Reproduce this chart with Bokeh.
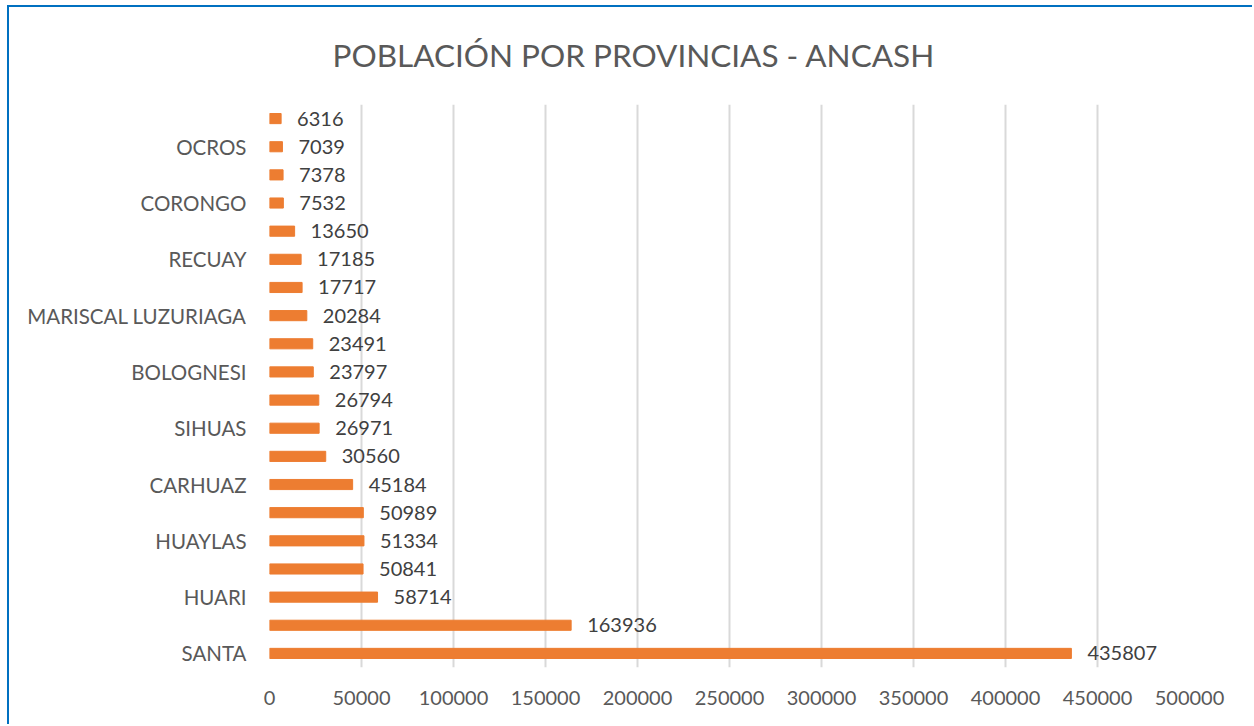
from bokeh.plotting import figure
from bokeh.models import FixedTicker, ColumnDataSource, Title
from bokeh.core.properties import value
from bokeh.embed import file_html
from bokeh.resources import INLINE

provinces = ["SANTA", "HUARAZ", "HUARI", "YUNGAY", "HUAYLAS", "CASMA", "CARHUAZ",
             "HUARMEY", "SIHUAS", "POMABAMBA", "BOLOGNESI", "PALLASCA",
             "MARISCAL LUZURIAGA", "CARLOS FERMÍN FITZCARRALD", "RECUAY",
             "ANTONIO RAYMONDI", "CORONGO", "ASUNCIÓN", "OCROS", "AIJA"]
population = [435807, 163936, 58714, 50841, 51334, 50989, 45184,
              30560, 26971, 26794, 23797, 23491,
              20284, 17717, 17185,
              13650, 7532, 7378, 7039, 6316]
x_ticks = [0, 50000, 100000, 150000, 200000, 250000, 300000, 350000, 400000, 450000, 500000]
title_text = "POBLACIÓN POR PROVINCIAS - ANCASH"

FONT = "Lato"
TXT = "#595959"

pos = list(range(len(provinces)))
src = ColumnDataSource(dict(y=pos, v=population, lab=[str(v) for v in population]))

p = figure(width=1245, height=719, output_backend="svg", toolbar_location=None,
           x_range=(0, 500000), y_range=(-0.5, len(provinces) - 0.5),
           min_border_left=260, min_border_right=65, min_border_top=97, min_border_bottom=59)
p.title = None
t = Title(text=title_text, align="left", vertical_align="top", text_font=FONT,
          text_font_size="31.5px", text_color=TXT, text_font_style="normal",
          standoff=57, offset=63)
p.add_layout(t, "above")

p.hbar(y="y", right="v", left=0, height=0.36, source=src, color="#ED7D31")
p.text(x="v", y="y", text="lab", source=src, x_offset=16, text_baseline="middle",
       text_align="left", text_font=value(FONT), text_font_size="20px", text_color="#404040")

p.outline_line_color = None
p.background_fill_color = "white"
p.border_fill_color = "white"

p.xaxis.ticker = FixedTicker(ticks=x_ticks)
p.xaxis.major_label_overrides = {v: str(v) for v in x_ticks}
p.xaxis.axis_line_color = None
p.xaxis.major_tick_line_color = None
p.xaxis.minor_tick_line_color = None
p.xaxis.major_label_text_font = FONT
p.xaxis.major_label_text_font_size = "20px"
p.xaxis.major_label_text_color = TXT
p.xaxis.major_label_standoff = 17

p.yaxis.ticker = FixedTicker(ticks=pos[::2])
p.yaxis.major_label_overrides = {i: provinces[i] for i in pos[::2]}
p.yaxis.axis_line_color = None
p.yaxis.major_tick_line_color = None
p.yaxis.minor_tick_line_color = None
p.yaxis.major_label_text_font = FONT
p.yaxis.major_label_text_font_size = "20.5px"
p.yaxis.major_label_text_color = TXT
p.yaxis.major_label_standoff = 17

p.xgrid.ticker = FixedTicker(ticks=x_ticks)
p.xgrid.grid_line_color = "#D9D9D9"
p.xgrid.grid_line_width = 2
p.ygrid.grid_line_color = None

p.styles = {"border-top": "2px solid #0070C0", "border-left": "2px solid #0070C0",
            "margin-left": "7px", "margin-top": "5px"}

open("out.html", "w").write(file_html(p, INLINE))
